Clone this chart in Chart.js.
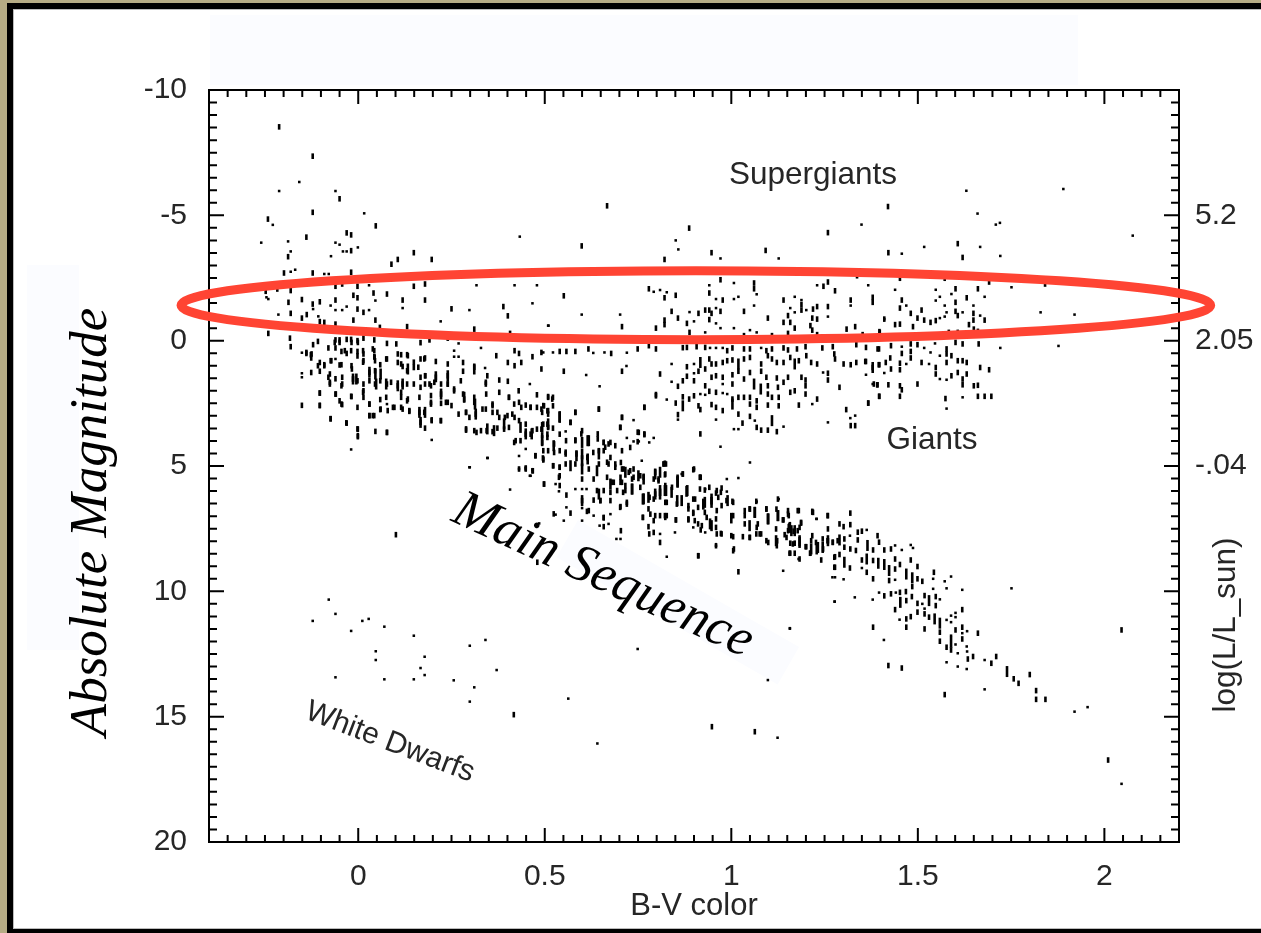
<!DOCTYPE html>
<html>
<head>
<meta charset="utf-8">
<title>H-R diagram</title>
<script src="https://cdn.jsdelivr.net/npm/chart.js@4"></script>
<style>
  html, body { margin: 0; padding: 0; width: 1261px; height: 933px; overflow: hidden; background: #b6ac85; }
  .frame { position: absolute; left: 7px; top: 3px; right: 0; bottom: 0; background: #000; }
  .panel { position: absolute; left: 13px; top: 9px; right: 0; bottom: 4px; background: #fff; border-left: 1px solid #bbb; border-top: 1px solid #bbb; border-bottom: 1px solid #bbb; }
  .patch { position: absolute; background: #fbfcff; }
  canvas { position: absolute; left: 0; top: 0; }
</style>
</head>
<body>
<div class="frame"></div>
<div class="panel"></div>
<div class="patch" style="left:210px;top:15px;width:868px;height:70px"></div>
<div class="patch" style="left:27px;top:265px;width:52px;height:385px"></div>
<div class="patch" style="left:578px;top:520px;width:255px;height:43px;transform-origin:0 0;transform:rotate(29.9deg)"></div>
<canvas id="hr" width="1261" height="933"></canvas>
<script>
// axis ranges and labels
const xRange = [-0.4, 2.2]
const magRange = [-10, 20]
const xTickValues = [0, 0.5, 1, 1.5, 2]
const xTickLabels = ['0', '0.5', '1', '1.5', '2']
const magTickValues = [-10, -5, 0, 5, 10, 15, 20]
const magTickLabels = ['-10', '-5', '0', '5', '10', '15', '20']
const lumTickValues = [-5, 0, 5]
const lumTickLabels = ['5.2', '2.05', '-.04']

// [B-V, absolute magnitude]
const brightDashes = [[-.212,-8.53],[-.122,-7.36],[-.05,-5.66],[-.122,-5.12],[-.242,-4.85],[.047,-4.58],[-.139,-4.13],[-.031,-4.3],[-.019,-4.22],[-.188,-3.35],[-.019,-3.59],[.149,-3.51],[.197,-3.24],[.106,-3.24],[.089,-3.05],[.667,-5.38],[1.42,-5.35],[.887,-4.49],[.599,-3.78],[.821,-3.24],[.947,-3.51],[1.092,-3.6],[1.259,-4.31],[1.421,-3.51],[1.607,-3.87],[1.62,-3.32],[-.248,-1.97],[-.217,-2.06],[-.181,-2.0],[-.151,-1.64],[-.187,-1.53],[-.122,-1.46],[-.103,-1.55],[-.138,-1.04],[-.151,-.9],[-.181,-1.09],[-.061,-2.17],[-.043,-2.26],[-.061,-1.62],[-.002,-2.17],[.041,-1.9],[.077,-1.86],[.119,-1.62],[.149,-2.17],[.179,-2.26],[.179,-1.62],[-.013,-1.81],[-.002,-1.71],[-.122,-2.7],[-.199,-2.7],[-.019,-2.73],[-.002,-1.26],[.014,-1.13],[-.013,-.82],[.046,-.82],[.25,-1.27],[.389,-1.36],[.401,-.99],[.311,-.46],[.058,-.53],[.131,-.56],[-.061,-.66],[-.091,-.73],[-.103,-.76],[-.241,-.29],[-.183,-.1],[-.181,.24],[.407,-.29]]
const brightDots = [[-.158,-6.33],[-.212,-5.97],[-.061,-5.97],[.016,-5.08],[-.229,-4.62],[-.26,-3.91],[-.061,-3.91],[-.05,-3.83],[-.188,-3.96],[-.181,-3.56],[-.041,-3.56],[-.031,-3.56],[-.001,-3.72],[-.073,-3.37],[-.169,-2.83],[-.181,-2.75],[1.349,-4.63],[.851,-4.0],[.858,-3.64],[.971,-3.28],[1.127,-3.28],[1.457,-3.47],[1.517,-3.74],[1.667,-3.74],[1.721,-3.38],[1.709,-4.63],[2.076,-4.19],[1.89,-6.05],[1.63,-5.98],[1.66,-5.07],[1.72,-4.7],[.433,-4.15],[-.091,-2.66],[-.079,-2.66],[.029,-2.21],[.317,-2.21],[.419,-2.21],[.479,-2.21],[-.246,-1.73],[-.241,-1.66],[-.121,-1.26],[-.074,-1.4],[-.061,-1.22],[-.043,-1.22],[-.031,-1.36],[.029,-1.22],[.046,-1.6],[.119,-1.3],[.298,-1.22],[.467,-1.49],[.221,-.77],[.51,-.6],[-.214,-1.04],[-.107,-.97]]
const fanDashes = [[-.108,.03],[-.061,-.03],[-.05,-.03],[-.031,-.05],[-.019,-.05],[-.002,0],[.014,-.1],[.043,-.03],[.077,.11],[.102,.13],[.167,.08],[.191,-.03],[.24,-.1],[-.121,.16],[-.08,.29],[-.061,.29],[-.045,.43],[-.031,.51],[-.019,.4],[-.002,.43],[-.002,.61],[.014,.53],[.043,.4],[.043,.64],[.045,.8],[.115,.56],[.131,.56],[.167,.73],[.179,.69],[.208,.83],[.24,.93],[.281,.87],[.311,1.06],[.37,.6],[.401,.87],[.419,.4],[.431,.51],[.437,.87],[.419,1.0],[.491,.47],[.467,.64],[.491,1.13],[-.139,.51],[-.127,.56],[-.126,.69],[-.103,.87],[-.074,.8],[-.05,.97],[-.091,.96],[-.017,1.13],[.014,.8],[.03,1.26],[.045,1.2],[.059,.96],[.077,.73],[.106,.87],[.119,1.03],[.131,1.2],[.149,1.07],[.167,1.46],[.179,1.4],[.208,1.46],[.24,1.4],[.281,1.22],[.342,1.66],[.346,1.4],[.401,1.62],[.378,1.57],[.43,2.0],[.431,2.46],[.479,2.16],[.498,2.6],[.507,2.8],[.491,2.73],[-.126,1.27],[-.103,1.22],[-.08,1.46],[-.076,1.73],[-.061,1.52],[-.043,1.46],[-.043,1.73],[-.014,1.53],[-.002,1.6],[.014,1.73],[.014,2.0],[.03,1.6],[.045,1.73],[.059,1.6],[.077,1.73],[.088,1.66],[.106,1.8],[.119,1.73],[.131,1.73],[.149,1.73],[.167,1.86],[.179,1.73],[.195,1.8],[.222,1.73],[.24,1.73],[.257,2.0],[.281,2.13],[.311,2.46],[.343,2.13],[.36,2.53],[.378,2.06],[.404,2.26],[.418,2.53],[.449,2.57],[.462,2.66],[.479,2.66],[-.103,2.09],[-.061,2.13],[-.019,2.22],[.014,2.26],[.03,2.53],[-.05,2.4],[-.043,2.55],[-.002,2.66],[.059,2.35],[.097,2.66],[.115,2.26],[.131,2.4],[.119,2.73],[.137,2.82],[.164,2.86],[.177,2.86],[.195,2.46],[.222,2.13],[.222,2.5],[.24,2.46],[.269,2.93],[.284,2.33],[.289,2.86],[.298,3.06],[.315,2.93],[.342,2.73],[.36,2.86],[.378,3.06],[.393,3.06],[.413,2.93],[.431,3.19],[.449,3.33],[.467,3.59],[.479,3.53],[.491,3.53],[.507,3.33],[-.151,2.58],[-.103,2.58],[-.074,3.11],[-.031,3.29],[.03,2.99],[.043,2.99],[.059,2.75],[-.001,3.53],[-.001,3.83],[.046,3.62],[.077,3.66],[.167,3.26],[.179,3.49],[.197,3.19],[.221,3.19],[.289,3.57],[.317,3.66],[.344,3.59],[.36,3.63],[.373,3.49],[.391,3.53],[.404,3.46],[.422,3.99],[.435,3.99],[.449,3.73],[.462,3.73],[.493,4.06],[.507,3.73],[.475,4.59],[.495,4.68],[.431,5.12],[.449,5.12],[.467,5.19]]
const fanExtraDashes = [[-.139,.47],[-.125,.53],[-.108,1.0],[-.091,1.0],[-.072,.8],[-.045,.96],[-.036,.4],[-.018,1.0],[-.001,.07],[-.063,.07],[-.05,.07],[-.018,.07],[.013,.86],[.013,.4],[.039,.33],[.044,.66],[.075,.73],[.106,.53],[.133,.6],[.115,.93],[.149,.86],[.177,.73],[.161,1.06],[.18,1.4],[-.076,1.33],[-.076,1.66],[-.045,1.8],[-.103,2.09],[-.06,2.13],[-.018,2.23],[.013,2.06],[.03,2.53],[-.045,2.53],[-.103,2.59],[.075,2.26],[.115,2.06],[.133,2.33],[.164,2.26],[.195,2.19],[.195,2.53],[.235,2.46],[.25,2.59],[.093,2.66],[.115,2.66],[.137,2.79],[.079,2.79],[.06,2.73],[.039,2.99],[-.074,3.12],[-.032,3.28],[.03,2.99],[.222,3.19],[.197,3.16],[.289,2.86],[.333,2.73],[.36,2.59],[.373,2.86],[.342,1.73],[.311,2.26],[.289,3.52],[.311,3.59],[.329,3.59],[-.002,3.52],[-.001,3.79],[.077,3.66],[.204,1.66],[.24,1.73],[.257,1.93],[.275,1.6],[.191,1.73]]
const fanDots = [[.257,.4],[.257,.64],[.269,.64],[.269,.11],[.329,.29],[.34,1.09],[-.151,.48],[-.061,.73],[.46,1.73],[-.151,1.3],[-.151,1.46],[.077,2.53],[.197,3.96],[-.019,4.34],[.346,4.68],[.298,5.05],[.431,4.6],[.449,4.32],[.46,5.39]]
const fanLong = [[.046,1.33],[.06,1.33],[.03,1.26],[-.014,1.53],[-.005,1.53],[.133,1.13],[.208,1.44],[.24,1.4],[.311,1.13],[.284,2.26],[.313,2.53],[.119,1.73],[.106,1.8],[.075,1.73],[.048,1.73],[.167,3.26],[.164,2.86],[.179,2.86],[.222,2.13],[.315,2.93],[.346,3.52],[.364,3.59]]
const giantDashes = [[.551,-1.79],[.707,-.56],[.798,-.5],[.779,-2.07],[.821,-1.71],[.851,-1.81],[.84,-1.17],[.857,-.9],[.821,-.82],[.821,-.64],[.881,-.69],[.888,-.33],[.912,-1.09],[.93,-1.22],[.941,-1.22],[.947,-1.09],[.971,-1.17],[.941,-.84],[.941,-1.9],[.977,-1.62],[.971,-2.43],[1.061,-2.3],[1.061,-2.07],[1.034,-1.17],[1.098,-.9],[1.034,-.2],[1.109,-.2],[1.14,-1.62],[1.188,-1.44],[1.152,-1.0],[1.188,-1.22],[1.219,-1.26],[1.23,-1.36],[1.217,-.9],[1.23,-.86],[1.14,-.73],[1.158,-.73],[1.17,-.5],[1.212,-.6],[1.217,-.42],[1.152,-.29],[1.247,-2.17],[1.259,-2.34],[1.278,-1.99],[1.259,-1.36],[1.32,-1.62],[1.379,-1.73],[1.379,-1.53],[1.337,-2.59],[1.309,-.46],[1.332,-.56],[1.397,-.36],[1.41,-.86],[1.352,-.24],[1.23,-.24],[.54,.43],[.558,.43],[.582,.43],[.617,.33],[.678,.51],[.749,.33],[.779,.2],[.798,.33],[.87,.28],[.881,.27],[.907,.24],[.93,.27],[.989,.4],[1.003,.29],[1.034,.33],[1.05,.33],[1.094,.4],[1.109,.33],[1.14,.29],[1.152,.37],[1.176,.33],[1.199,.24],[1.244,.29],[1.272,.24],[1.335,.16],[1.361,.27],[1.392,.33],[.707,1.22],[.551,1.22],[.809,1.33],[.881,1.04],[.941,.73],[.947,.93],[.959,.93],[.977,.87],[.989,.8],[1.003,.77],[1.034,.73],[1.05,.67],[1.08,.93],[1.098,.6],[1.109,.73],[1.122,.87],[1.14,.87],[1.158,.67],[1.181,.8],[1.201,.6],[1.214,.87],[1.23,.93],[1.278,.73],[1.301,.93],[1.32,.96],[1.335,.87],[1.361,.83],[1.379,1.07],[1.397,.96],[1.276,.53],[.881,1.42],[.912,1.22],[.93,1.13],[.947,1.46],[.959,1.4],[.977,1.46],[1.003,1.36],[1.019,1.22],[1.034,1.53],[1.05,1.27],[1.08,1.22],[1.094,1.46],[1.122,1.49],[1.152,1.46],[1.188,1.46],[1.199,1.57],[1.259,1.3],[1.259,1.57],[.87,1.6],[.857,1.82],[.9,1.6],[.93,1.8],[1.003,1.73],[1.098,1.8],[1.125,1.86],[1.14,1.66],[1.199,1.8],[1.29,1.86],[1.382,1.73],[1.392,1.76],[.87,2.24],[.887,2.33],[.9,2.2],[.941,2.02],[.959,2.06],[1.003,2.33],[1.019,2.26],[1.034,2.26],[1.05,2.26],[1.068,2.4],[1.098,2.13],[1.109,2.26],[1.127,2.26],[1.158,2.06],[1.17,2],[1.199,2.13],[1.23,2.33],[.798,2.2],[.851,2.49],[.912,2.6],[.917,2.75],[.947,2.55],[.959,2.66],[.977,2.79],[1.05,2.53],[1.068,2.66],[1.098,2.57],[1.127,2.6],[1.181,2.57],[1.308,2.75],[1.367,2.49],[1.397,2.22],[.767,2.66],[.857,2.95],[1.019,2.93],[1.05,3.02],[1.03,3.29],[1.068,3.46],[1.08,3.57],[1.098,3.57],[1.122,3.63],[1.32,3.39],[1.332,3.39],[.917,3.72],[1.452,-2.49],[1.572,-2.49],[1.601,-2.07],[1.661,-2.07],[1.691,-2.34],[1.841,-2.26],[1.631,-1.71],[1.601,-1.53],[1.457,-1.62],[1.452,-1.3],[1.51,-1.22],[1.481,-1.09],[1.499,-.9],[1.517,-.82],[1.534,-.73],[1.548,-.8],[1.601,-1.17],[1.607,-1],[1.649,-1.09],[1.649,-.82],[1.679,-.82],[1.637,-.64],[1.65,-.46],[1.661,-.37],[1.439,-.64],[1.452,-.66],[1.487,-.56],[1.583,-.33],[1.607,-.33],[1.398,-.33],[1.359,-.07],[1.396,.33],[1.428,.2],[1.481,.13],[1.499,.16],[1.577,.33],[1.601,.07],[1.62,.13],[1.663,.13],[1.426,.69],[1.457,.51],[1.481,.43],[1.481,.69],[1.577,.53],[1.59,.6],[1.359,.83],[1.395,.96],[1.414,.87],[1.428,1.13],[1.452,.9],[1.51,.87],[1.548,1.07],[1.577,.87],[1.607,.8],[1.62,.8],[1.631,.87],[1.667,1.07],[1.691,1.16],[1.452,1.16],[1.548,1.33],[1.59,1.4],[1.607,1.27],[1.631,1.33],[1.62,1.53],[1.499,1.73],[1.62,1.76],[1.65,1.8],[1.661,1.78],[1.391,1.76],[1.421,1.76],[1.452,1.8],[1.457,1.96],[1.396,2.22],[1.452,2.22],[1.367,2.49],[1.574,2.31],[1.661,2.22],[1.679,2.22],[1.697,2.22]]
const giantDots = [[.599,-1.04],[.509,-.6],[.702,-1.04],[.792,-1.95],[.809,-2.02],[.827,-1.93],[.888,-1.14],[.9,-.77],[.959,-1.3],[.959,-.69],[.971,-.5],[1.007,-.5],[.93,-.33],[.941,-2.21],[.959,-1.66],[1.007,-2.3],[1.007,-1.66],[1.019,-1.75],[1.068,-1.85],[1.061,-1.4],[1.05,-.42],[1.068,-.33],[1.17,-1.75],[1.188,-1.62],[1.158,-1.3],[1.17,-1.13],[1.201,-1.22],[1.23,-2.21],[1.259,-.96],[1.32,-1.4],[1.367,-2.21],[.496,.47],[.522,.47],[.63,.49],[.66,.47],[.72,.48],[.943,.29],[.959,.29],[.977,.29],[1.08,.29],[.719,1.01],[.611,1.37],[.84,.93],[.9,.93],[.9,1.3],[1.246,1.27],[.84,1.64],[.977,1.73],[.647,1.82],[.917,2.13],[.93,2.16],[.977,2.09],[.989,2.13],[.827,2.35],[1.217,2.53],[.857,3.15],[.959,3.15],[1.063,3.19],[1.007,3.53],[1.019,3.53],[1.14,3.43],[1.259,3.26],[1.319,3.09],[1.332,2.99],[.971,4.23],[1.05,4.86],[1.439,-2.03],[1.548,-2.03],[1.727,-2.49],[1.751,-2.13],[1.59,-1.86],[1.559,-1.75],[1.548,-1.6],[1.679,-1.75],[1.649,-1.4],[1.572,-1.4],[1.469,-1.4],[1.559,-.9],[1.572,-.96],[1.577,-1.13],[1.62,-1.13],[1.667,-1],[1.829,-1.13],[1.92,-1.04],[1.41,-.86],[1.457,.24],[1.517,.29],[1.546,.11],[1.721,.29],[1.877,.21],[1.534,.47],[1.559,.6],[1.469,.93],[1.53,.93],[1.361,1.36],[1.41,1.29],[1.559,1.53],[1.577,1.56],[1.379,1.73],[1.62,2.26],[1.577,2.71]]
const mainDashes = [[.493,2.86],[.509,2.26],[.522,2.26],[.522,2.6],[.509,2.93],[.582,2.86],[.569,3.26],[.645,2.73],[.707,3.06],[.703,3.46],[.752,3.66],[.767,3.75],[.496,3.33],[.509,3.46],[.522,3.49],[.493,3.79],[.507,3.86],[.525,4.12],[.54,3.73],[.582,3.99],[.6,3.59],[.642,3.92],[.658,4.06],[.676,4.06],[.496,4.39],[.509,4.39],[.525,4.46],[.54,4.39],[.556,4.52],[.585,4.52],[.614,4.66],[.63,4.46],[.645,4.39],[.658,4.39],[.676,4.66],[.707,4.39],[.729,4.26],[.704,4.86],[.738,5.12],[.796,5.25],[.82,4.92],[.823,5.32],[.756,5.39],[.729,5.19],[.496,4.72],[.522,4.99],[.54,5.05],[.556,4.92],[.582,4.92],[.618,5.12],[.645,4.92],[.671,4.92],[.689,5.05],[.711,5.12],[.738,5.45],[.631,5.52],[.667,5.45],[.703,5.45],[.765,5.45],[.805,5.52],[.856,5.45],[.87,5.32],[.9,5.12],[.918,5.45],[.54,5.39],[.6,5.52],[.498,5.72],[.538,5.45],[.558,6.16],[.6,6.38],[.618,6.78],[.658,7.07],[.658,7.42],[.569,6.88],[.704,7.58],[.48,8.84],[.64,5.98],[.658,5.98],[.676,6.05],[.71,6.05],[.734,5.52],[.792,5.52],[.825,4.92],[.805,5.59],[.68,5.65],[.703,5.65],[.716,5.78],[.756,5.85],[.781,6.25],[.796,6.12],[.823,5.78],[.841,5.85],[.916,5.45],[.631,6.36],[.649,6.38],[.676,6.38],[.703,6.62],[.72,6.45],[.792,6.32],[.827,6.45],[.854,6.52],[.885,6.58],[.903,6.32],[.965,6.25],[.987,6.38],[1.005,6.45],[.961,5.98],[.974,5.88],[.763,7.05],[.783,6.92],[.792,7.18],[.809,6.98],[.827,6.98],[.852,7.15],[.885,7.11],[.898,6.89],[.921,7.38],[.934,7.05],[.961,6.78],[.778,7.42],[.792,7.65],[.78,7.71],[.809,8.05],[.961,7.71],[.974,7.71],[1.005,7.82],[1.005,8.38],[.912,8.58],[1.019,9.22],[1.278,9.04],[1.005,6.98],[1.036,6.78],[1.036,7.31],[1.05,6.72],[1.05,7.85],[1.068,7.45],[1.076,7.71],[1.094,6.72],[1.099,8.05],[1.121,6.72],[1.123,7.98],[1.152,6.78],[1.181,6.78],[1.183,7.45],[1.219,6.85],[1.259,6.98],[1.259,7.51],[1.148,7.85],[1.165,8.11],[1.201,8.22],[1.214,7.98],[1.246,8.31],[1.259,7.98],[1.272,8.05],[1.285,7.98],[1.212,8.48],[1.241,8.75],[1.278,8.62],[1.217,6.84],[1.319,6.88],[1.14,7.15],[1.154,6.98],[1.187,7.28],[1.154,7.42],[1.167,7.6],[1.178,7.58],[1.152,7.58],[1.29,7.31],[1.301,7.42],[1.319,7.34],[1.217,7.78],[1.272,8.04],[1.303,7.91],[1.339,7.64],[1.35,7.6],[1.339,7.95],[1.392,7.78],[1.334,8.37],[1.303,8.24],[1.319,8.31],[1.396,8.04],[1.38,8.35],[1.41,8.35],[1.428,8.31],[1.156,8.48],[1.211,8.48],[1.276,8.64],[1.29,8.53],[1.318,9.07],[1.276,9.04],[1.35,8.75],[1.363,9.24],[1.38,8.77],[1.38,9.5],[1.423,9.57],[1.439,8.71],[1.439,9.11],[1.452,8.93],[1.481,8.75],[1.499,9.01],[1.499,9.5],[1.512,9.6],[1.485,9.81],[1.543,9.24],[1.41,10.18],[1.428,10.1],[1.452,10.04],[1.468,10.01],[1.469,10.37],[1.484,10.21],[1.499,10.48],[1.518,10.17],[1.548,10.21],[1.548,10.57],[1.439,10.73],[1.499,10.83],[1.481,11.01],[1.518,10.9],[1.469,11.1],[1.53,11.03],[1.619,10.73],[1.38,11.43],[1.469,11.43],[1.518,11.5],[1.601,11.54],[1.619,11.43],[1.661,11.67],[1.559,11.63],[1.559,11.99],[1.619,11.9],[1.577,12.23],[1.589,12.34],[1.634,12.7],[1.648,12.6],[1.697,12.87],[1.71,12.6],[1.757,13.49],[1.77,13.67],[1.8,13.32],[1.817,13.96],[1.817,14.31],[1.842,14.31],[2.01,16.73],[2.046,11.54],[1.572,14.12],[1.421,12.96],[1.457,13.06],[.417,14.92],[.948,15.4],[1.063,15.6],[.101,7.74]]
const coreDashes = [[.404,2.26],[.4,2.99],[.419,3.06],[.437,2.66],[.462,2.66],[.496,2.59],[.509,2.23],[.52,2.33],[.509,2.79],[.418,4.06],[.475,4.59],[.496,4.76],[.449,5.08],[.468,5.19],[.498,5.72],[.54,5.78],[.523,4.99],[.54,5.05],[.556,4.45],[.557,3.99],[.582,3.96],[.598,3.72],[.569,3.26],[.582,2.86],[.645,2.73],[.642,3.72],[.658,4.06],[.671,4.12],[.689,4.19],[.662,4.25],[.667,4.85],[.689,4.92],[.707,5.12],[.725,5.25],[.818,4.92],[.707,3.06],[.749,3.65],[.767,3.72],[.749,4.03],[.767,2.66],[.798,2.15],[.702,3.46],[.685,5.65],[.707,5.65],[.694,5.98],[.716,5.98],[.649,6.38],[.72,6.52],[.702,6.65],[.778,6.71],[.823,6.45],[.763,7.05],[.796,6.98],[.823,7.05],[.524,6.91],[.613,6.81],[.658,7.05],[.822,4.89],[.822,5.35],[.898,5.15],[.916,5.45],[.87,5.32],[.898,6.32],[.916,5.92],[.929,5.96],[.941,5.85],[.959,6.08],[.972,6.05],[.974,6.58],[1.003,6.41],[.898,6.85],[.929,6.85],[.885,6.71],[.911,6.65],[.822,6.98],[.851,7.15],[.885,7.15],[.902,7.18],[.911,7.31],[.959,7.11],[.959,7.45],[.918,7.55],[.972,7.69],[1.0,6.98],[1.0,7.18],[1.0,7.78],[1.007,8.31],[1.036,6.98],[1.049,6.71],[1.067,6.41],[1.125,6.32],[1.094,6.71],[1.152,6.92],[1.178,6.78],[1.217,6.81],[1.258,6.98],[1.187,7.25],[1.156,7.38],[1.138,7.15],[1.071,7.31],[1.067,7.71],[1.08,7.71],[1.094,7.98],[1.049,7.85],[1.031,7.82],[1.12,7.51],[1.143,7.74],[1.158,8.08],[1.17,8.08],[1.199,8.22],[1.227,8.05],[1.245,7.91],[1.258,7.98],[1.122,8.18],[1.158,8.48],[1.17,8.48],[1.183,8.71],[.911,8.58],[.959,8.18]]
const mainDots = [[.738,3.17],[.72,3.88],[.738,4.02],[.752,4.02],[.792,3.88],[.78,4.06],[.556,3.62],[.76,4.79],[1.019,5.48],[.347,4.68],[.299,5.05],[.431,5.12],[.449,5.09],[.467,5.16],[.462,5.39],[.407,5.94],[.529,5.72],[.538,6.01],[.582,5.92],[.6,5.92],[.612,5.92],[.6,6.68],[.631,6.98],[.676,6.92],[.647,7.38],[.671,7.31],[.558,6.65],[.529,6.94],[.551,7.18],[.6,7.18],[.692,7.91],[.703,7.91],[.485,7.29],[.867,5.32],[.9,5.12],[.988,5.52],[.988,6.02],[.93,5.92],[.809,7.71],[.849,7.65],[.898,7.45],[.93,7.65],[.959,8.18],[.827,8.62],[1.139,9.18],[1.277,10.41],[1.157,11.49],[.749,12.3],[1.098,13.54],[1.278,9.44],[1.127,6.32],[1.068,6.42],[1.228,7.11],[1.157,8.48],[1.181,8.71],[1.229,7.11],[1.181,8.71],[1.318,7.78],[1.363,7.55],[1.439,8.17],[1.457,8.35],[1.481,8.15],[1.487,8.27],[1.35,9.07],[1.439,9.54],[1.541,9.5],[1.572,9.6],[1.589,9.41],[1.577,9.88],[1.619,9.94],[1.541,9.9],[1.271,9.44],[1.301,9.52],[1.396,10.05],[1.441,10.05],[1.559,10.32],[1.512,10.5],[1.518,10.69],[1.451,11.13],[1.577,11.14],[1.589,10.97],[1.601,10.86],[1.601,11.03],[1.589,11.23],[1.632,11.59],[1.619,11.67],[1.589,11.77],[1.601,12.12],[1.607,12.47],[1.631,12.2],[1.632,12.4],[1.577,12.83],[1.607,13.0],[1.631,13.1],[1.679,12.74],[1.92,14.8],[1.955,14.62],[2.046,17.68],[1.751,9.88],[1.679,13.91],[1.409,11.94],[1.331,10.24],[1.379,10.33],[1.277,10.41],[1.157,11.47],[.563,14.28],[.641,16.07],[1.124,15.84]]
const mainLong = [[.54,3.06],[.6,4.06],[.618,3.99],[.6,4.52],[.6,5.12],[.734,5.92],[.809,5.25],[.763,6.32],[.809,5.98],[.856,5.65],[.882,5.98],[.925,6.52],[.947,6.45],[.947,7.38],[1.063,6.85],[1.099,7.11],[1.125,6.98],[1.157,7.45],[1.183,7.98],[1.232,8.25],[1.229,8.31],[1.259,7.98],[1.29,7.95],[1.365,8.17],[1.303,8.84],[1.363,8.71],[1.394,8.88],[1.41,8.93],[1.423,9.17],[1.469,9.31],[1.485,9.46],[1.453,10.44],[1.53,10.37],[1.545,11.1],[1.559,11.27],[1.589,12.03],[1.739,13.2],[.917,.87],[1.019,.93],[1.17,.93],[1.079,1.93],[1.061,1.73],[1.003,2.53],[.87,2.6],[1.109,3.19],[1.379,1.07],[.449,3.72],[.465,3.72],[.493,3.46],[.509,3.32],[.54,3.03],[.435,3.46],[.391,3.32],[.493,3.99],[.524,4.19],[.6,4.79],[.585,4.59],[.615,4.72],[.569,4.99],[.645,4.52],[.64,5.19],[.615,3.99],[.676,5.72],[.734,5.92],[.765,6.31],[.778,6.25],[.796,6.12],[.809,6.12],[.825,5.98],[.796,5.32],[.716,5.25],[.751,5.39],[.765,5.52],[.645,6.12],[.6,6.38],[.856,5.61],[.822,5.98],[.84,6.05],[.88,6.01],[.929,6.45],[.947,6.32],[.99,6.38],[.855,6.38],[.867,6.38],[.943,7.31],[1.098,7.11],[1.125,6.98],[1.183,8.05],[1.049,7.38],[1.063,6.85],[1.214,8.31],[1.245,8.25],[1.161,7.58],[1.17,7.58],[1.12,7.98]]
const dwarfDots = [[-.079,10.33],[-.061,10.9],[-.122,11.18],[-.019,11.58],[.011,11.18],[.028,11.1],[.07,11.41],[.149,11.77],[.047,12.39],[.047,12.74],[.178,12.61],[.167,13.06],[.178,13.34],[.149,13.51],[.07,13.51],[-.061,13.43],[.256,13.55],[.311,13.83],[.299,14.4],[.299,12.17],[.341,11.94],[.371,13.14]]

const dashPoints = [].concat(brightDashes, fanDashes, fanExtraDashes, giantDashes, mainDashes, coreDashes)
const longPoints = [].concat(fanLong, mainLong)
const dotPoints = [].concat(brightDots, fanDots, giantDots, mainDots, dwarfDots)
const toXY = list => list.map(p => ({ x: p[0], y: p[1] }))

const labelAt = (values, labels, v) => {
  const i = values.findIndex(t => Math.abs(t - v) < 1e-6)
  return i < 0 ? '' : labels[i]
}

const sansFont = 'Liberation Sans'
const serifFont = 'Liberation Serif'
const inkColor = '#262626'

// red ring around the giants, in data units
const ring = { bv: 0.905, mag: -1.416, rBv: 1.38, rMag: 1.376 }

// ticks point inwards on all four sides, so the library's own tick marks can't do it
const insideTicks = {
  id: 'insideTicks',
  afterDatasetsDraw(chart) {
    const { ctx, chartArea: a, scales } = chart
    ctx.save()
    ctx.strokeStyle = '#000'
    ctx.lineWidth = 2
    ctx.beginPath()
    scales.x.ticks.forEach(t => {
      const px = scales.x.getPixelForValue(t.value)
      const len = labelAt(xTickValues, xTickLabels, t.value) ? 14 : 7
      ctx.moveTo(px, a.top); ctx.lineTo(px, a.top + len)
      ctx.moveTo(px, a.bottom); ctx.lineTo(px, a.bottom - len)
    })
    scales.y.ticks.forEach(t => {
      const py = scales.y.getPixelForValue(t.value)
      const len = labelAt(magTickValues, magTickLabels, t.value) ? 15 : 8
      ctx.moveTo(a.left, py); ctx.lineTo(a.left + len, py)
      ctx.moveTo(a.right, py); ctx.lineTo(a.right - len, py)
    })
    ctx.stroke()
    ctx.restore()
  }
}

const drawText = (ctx, text, x, y, angle, font, color) => {
  ctx.save()
  ctx.translate(x, y)
  ctx.rotate(angle * Math.PI / 180)
  ctx.font = font
  ctx.fillStyle = color
  ctx.textAlign = 'center'
  ctx.textBaseline = 'alphabetic'
  ctx.fillText(text, 0, 0)
  ctx.restore()
}

const overlay = {
  id: 'overlay',
  afterDraw(chart) {
    const { ctx, scales } = chart
    const cx = scales.x.getPixelForValue(ring.bv)
    const cy = scales.y.getPixelForValue(ring.mag)
    const rx = scales.x.getPixelForValue(ring.bv + ring.rBv) - cx
    const ry = scales.y.getPixelForValue(ring.mag + ring.rMag) - cy
    ctx.save()
    ctx.strokeStyle = '#ff4433'
    ctx.lineWidth = 9
    ctx.beginPath()
    ctx.ellipse(cx, cy, rx, ry, 0, 0, Math.PI * 2)
    ctx.stroke()
    ctx.restore()

    const sans = '31.5px "' + sansFont + '"'
    drawText(ctx, 'Supergiants', 813, 184, 0, sans, inkColor)
    drawText(ctx, 'Giants', 932, 449, 0, sans, inkColor)
    drawText(ctx, 'White Dwarfs', 387, 750, 21, '30px "' + sansFont + '"', inkColor)
    drawText(ctx, 'log(L/L_sun)', 1235, 625, -90, sans, inkColor)
    drawText(ctx, 'Absolute Magnitude', 106, 522, -90, 'italic 53px "' + serifFont + '"', '#000')
    drawText(ctx, 'Main Sequence', 597, 589, 25, 'italic 53px "' + serifFont + '"', '#000')
  }
}

const tickFont = { family: sansFont, size: 30 }
const axisBorder = { display: true, color: '#000', width: 2 }

new Chart(document.getElementById('hr'), {
  type: 'scatter',
  data: {
    datasets: [
      { label: 'dashes', data: toXY(dashPoints), pointStyle: 'line', rotation: 90, radius: 2.8, borderColor: '#000', borderWidth: 2.6 },
      { label: 'long dashes', data: toXY(longPoints), pointStyle: 'line', rotation: 90, radius: 5.5, borderColor: '#000', borderWidth: 2.6 },
      { label: 'dots', data: toXY(dotPoints), pointStyle: 'rect', radius: 1.8, backgroundColor: '#000', borderWidth: 0 }
    ]
  },
  options: {
    responsive: false,
    animation: false,
    layout: { padding: 0 },
    plugins: { legend: { display: false }, tooltip: { enabled: false } },
    scales: {
      x: {
        type: 'linear', position: 'bottom', min: xRange[0], max: xRange[1],
        grid: { display: false }, border: axisBorder,
        ticks: {
          stepSize: 0.05, autoSkip: false, maxRotation: 0, padding: 9, color: inkColor, font: tickFont,
          callback: v => labelAt(xTickValues, xTickLabels, v)
        },
        title: { display: true, text: 'B-V color', color: inkColor, font: { family: sansFont, size: 31 }, padding: { top: 0, bottom: 8 } },
        afterFit: s => { s.height = 91 }
      },
      x2: {
        type: 'linear', position: 'top', min: xRange[0], max: xRange[1],
        grid: { display: false }, border: axisBorder, ticks: { display: false },
        afterFit: s => { s.height = 90 }
      },
      y: {
        type: 'linear', position: 'left', reverse: true, min: magRange[0], max: magRange[1],
        grid: { display: false }, border: axisBorder,
        ticks: {
          stepSize: 0.5, autoSkip: false, padding: 14, color: inkColor, font: tickFont,
          callback: v => labelAt(magTickValues, magTickLabels, v)
        },
        afterFit: s => { s.width = 209 }
      },
      y2: {
        type: 'linear', position: 'right', reverse: true, min: magRange[0], max: magRange[1],
        grid: { display: false }, border: axisBorder,
        ticks: {
          stepSize: 5, autoSkip: false, padding: 8, color: inkColor, font: tickFont,
          callback: v => labelAt(lumTickValues, lumTickLabels, v)
        },
        afterFit: s => { s.width = 82 }
      }
    }
  },
  plugins: [insideTicks, overlay]
})
</script>
</body>
</html>
